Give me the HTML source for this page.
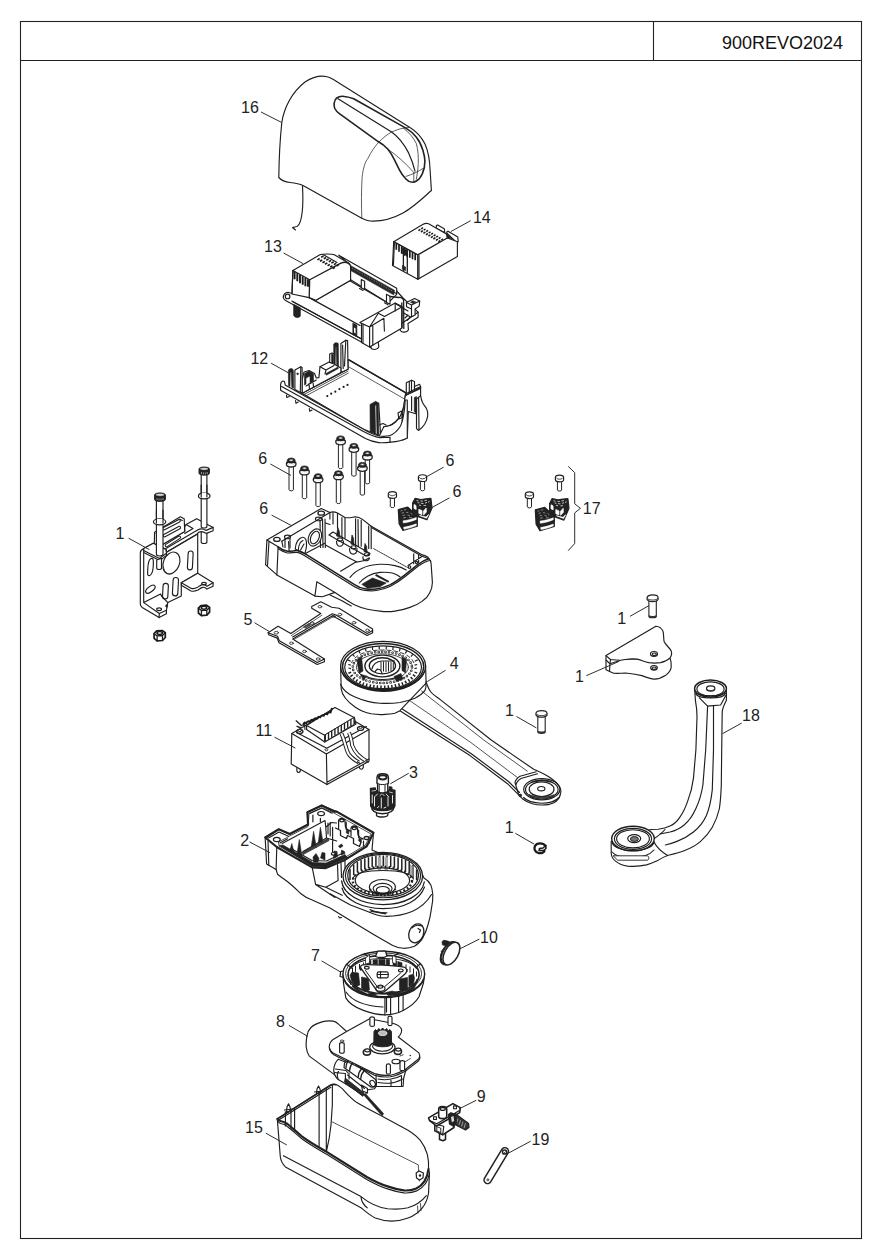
<!DOCTYPE html>
<html><head><meta charset="utf-8">
<style>
html,body{margin:0;padding:0;background:#fff;}
body{width:881px;height:1254px;overflow:hidden;font-family:"Liberation Sans",sans-serif;}
svg{position:absolute;left:0;top:0;display:block}
.t{font-family:"Liberation Sans",sans-serif;font-size:16px;fill:#222}
.p{fill:#fff;stroke:#1e1e1e;stroke-width:1.15;stroke-linejoin:round;stroke-linecap:round}
.n{fill:none;stroke:#1e1e1e;stroke-width:1.15;stroke-linejoin:round;stroke-linecap:round}
.h{fill:none;stroke:#2a2a2a;stroke-width:.75;stroke-linejoin:round;stroke-linecap:round}
.b{fill:none;stroke:#222;stroke-width:1.6;stroke-linejoin:round;stroke-linecap:round}
.k{fill:#222;stroke:#222;stroke-width:.6;stroke-linejoin:round}
.l{fill:none;stroke:#222;stroke-width:.95}
</style></head><body>
<svg width="881" height="1254" viewBox="0 0 881 1254">
<g fill="none" stroke="#222" stroke-width="1.1">
<rect x="20.5" y="21.5" width="841" height="1217"/>
<line x1="20.5" y1="60.5" x2="861.5" y2="60.5"/>
<line x1="653.5" y1="21.5" x2="653.5" y2="60.5"/>
</g>
<text x="843" y="49" text-anchor="end" style="font-family:'Liberation Sans',sans-serif;font-size:18px;fill:#111">900REVO2024</text>
<defs>
<g id="scr">
<path d="M-2.2 7 L-2.2 31.9 C-2.2 33.3 2.2 33.3 2.2 31.9 L2.2 7 Z" fill="#fff" stroke="#222" stroke-width="1"/>
<path d="M-4.5 4.6 C-5.2 6.4 -4.6 8 -3.2 8.5 C-1 9.3 1 9.3 3.2 8.5 C4.6 8 5.2 6.4 4.5 4.6 Z" fill="#fff" stroke="#222" stroke-width="1.3"/>
<path d="M-3.9 2.6 C-3.9 -.6 3.9 -.6 3.9 2.6 L3.9 5 C3 6.8 -3 6.8 -3.9 5 Z" fill="#222" stroke="#222" stroke-width=".8"/>
<path d="M-3.2 5.6 C-1.5 7.2 1.5 7.2 3.2 5.6 C1.5 6.2 -1.5 6.2 -3.2 5.6Z" fill="#fff" stroke="#fff" stroke-width=".9"/>
<ellipse cx="0" cy="2.4" rx="2.2" ry="1" fill="#999"/>
<ellipse cx="0" cy="2.4" rx=".9" ry=".5" fill="#fff"/>
</g>
<g id="sscr">
<path d="M-2.1 6 L-2.1 15.2 C-2.1 16.5 2.1 16.5 2.1 15.2 L2.1 6 Z" fill="#fff" stroke="#222" stroke-width="1"/>
<path d="M-4.1 2.4 C-4.1 -.6 4.1 -.6 4.1 2.4 L4.1 4.8 C4.1 7.6 -4.1 7.6 -4.1 4.8 Z" fill="#fff" stroke="#222" stroke-width="1.2"/>
<path d="M-3.4 2.8 C-2 4.8 2 4.8 3.4 2.8" fill="none" stroke="#222" stroke-width=".9"/>
</g>
<g id="clipset">
<use href="#sscr" x="392.4" y="491.4"/>
<use href="#sscr" x="422.5" y="474.6"/>
<!-- right clip -->
<path d="M412.6 503.1 L415 498.4 L421 499.5 L426 498.8 L430.9 498.4 L432 507.9 L426.9 519.8 L418.1 516.6 L412.6 511.1 Z" fill="#222" stroke="#222" stroke-width="1.2" stroke-linejoin="round"/>
<path d="M414 504.5 L416 505.5 L416.2 509.5 L414 508.5 Z M418.8 509.2 L422 510.6 L422 514.6 L418.8 513.4 Z M423.5 511 L426.2 508 L426.4 512 L423.6 515 Z M419.5 515.5 L426.5 518.2 L428.6 514.5 L426 517 Z M417.5 502.5 l2 .5 M421 503.3 l2.5 .3 M425 503 l2 -.5 M416.5 500.5 l2 .4 M420.5 501 l2.4 .2 M424.5 500.6 l2.4 -.3 M428 502 l1.6 -.4 M419 505 l2 .5 M423.5 505.6 l2.5 -.2" fill="#fff" stroke="#fff" stroke-width=".7"/>
<!-- left clip -->
<path d="M398.3 509.5 L407.8 507.1 L417.3 515.9 L417.3 526.2 L403 530.5 L399.1 523.8 Z" fill="#222" stroke="#222" stroke-width="1.2" stroke-linejoin="round"/>
<path d="M403 520.8 C408 520.2 412.5 519 416.3 517.5 L416.3 519.4 C412.5 521 408 522.4 403.3 523 Z M403.6 527.2 C408 526.6 412.5 525.4 416.3 523.8 L416.3 525.6 C412 527.4 408 528.6 404 529.3 Z" fill="#fff" stroke="#fff" stroke-width=".5"/>
<path d="M400.5 511 l2 -.6 M404 510 l2.2 -.6 M401.5 513.2 l2.5 -.7 M406 512.2 l2.4 .6 M402.5 515.6 l2.6 -.6 M407.5 515 l2.5 .8 M403 518 l3 -.6 M409 517.4 l3 .4 M410.5 513.2 l1.8 1.2" stroke="#aaa" stroke-width=".7" fill="none"/>
</g>
</defs>

<g id="p16">
<path class="n" d="M302.5 186 C303 195 303 204 302.3 211 C301.5 219 300 225 297 226.5 L292.5 227.5 L295.5 230"/>
<path class="p" d="M278.8 177.5 C279 160 280 140 281.8 122.5 C284 108 292 92 305 82 C312 77.5 320 75.5 326 76.5 C329 77 331 78 333 79.2 L409.9 127.4 C416 131 421.6 137.2 425 144 C428.5 152 429.8 161 430.1 170 L431.4 190.5 C424 197 414 207 403 213 C393 218.5 380 221.5 370 221 C366 220.5 364 219.5 361.8 218.3 L303 185.5 C299 183.5 295 183 290 182.5 C285 182 281 180 278.8 177.5 Z"/>
<path class="h" d="M361.8 218.3 C361.4 205 361.2 190 362.2 176.4 C363.2 168 365 162 368.1 158.1 C371 152 374.5 147 378.5 142.4 C383 138 387 134.5 391.6 132 C396 130 400 128.8 403.3 128.1 L409.9 127.4"/>
<path class="b" d="M334.1 103.3 C334.5 100.5 335.5 98.8 336.7 98 C339 96.3 342 96 344.6 96.5 C348 97 351 97.8 353.7 98.7 L405.9 128.1 C410 130.5 413.5 133.5 416.4 137.2 C419.5 141 421.5 145.5 422.9 150.3 C424 154 424.7 157.5 424.9 160.7 C425 165 424 170 422.3 173.8 C421 177 419 179.5 416.4 181 C415 182 413.8 182.4 412.5 182.3 C410 182 407.5 181 405.9 179 C403.5 176.5 401.2 173.5 399.4 169.9 L394.2 159.4 C392.5 155.5 390.3 152 387.7 149 C385 146 382 143.8 378.5 141.8 L339.4 113.7 C337 111.9 335.7 110.3 334.8 108.5 C334.2 107 334 105 334.1 103.3 Z"/>
<path class="n" style="stroke-width:1.2" d="M338 98.7 L391.6 132 C398 136.5 404 144 408.6 152.9 C411.5 159 413.5 165 415 171.2"/>
<path class="h" d="M403.3 128.1 C409 132.5 413.5 137.5 416.4 143.7 C418 150 418.5 156.5 418.3 163.3 C418 169 417.3 174 416.4 179"/>
<path class="h" d="M387.7 149 C397 155.5 406 163.5 413.8 172.5 M406 176.4 C412 174.5 418 171.8 422.9 168.5 M413.8 172.5 L413.8 181.6"/>
</g>

<g id="p14">
<path class="p" d="M436.2 228.3 L436.4 225.6 L437.6 224.9 L444.3 228.8 L444.8 232.7 Z"/>
<path class="p" d="M446.6 233 L447.2 231.5 L448 231.2 L457.8 237 L458.2 241.7 L457.2 243 Z"/>
<path class="p" d="M393.7 241.7 L422.7 224.5 C424.8 223.3 426.6 223 428.6 223.8 L446.4 233.9 L447.6 238 L457.4 241.7 L457.4 256.4 L417.8 279.3 L392.5 265.4 Z"/>
<path class="k" d="M446.6 233.2 L452 238.6 L447.2 238.2 Z"/>
<path class="n" style="stroke-width:1.4" d="M393.7 241.7 L417.8 254.8 L447.2 238 M417.8 254.8 L417.8 279.3"/>
<path class="n" d="M419 255.6 L419 278.6 M394.4 243 L393.4 265"/>
<g stroke="#1a1a1a" stroke-width="1.7" fill="none">
<path d="M396.3 243.2 v6.5 M399 244.7 v7 M401.7 246.2 v7.5 M404.4 247.7 v8 M407.1 249.2 v7.5 M409.8 250.7 v7 M412.5 252.2 v7 M415.2 253.7 v6.5"/>
</g>
<g stroke="#1a1a1a" stroke-width="1.5" fill="none">
<path d="M418.4 230.6 l2 -1.3 M421.2 228.8 l1.8 -1.2 M420.9 232 l2 -1.3 M423.7 230.2 l1.8 -1.2 M423.4 233.4 l2 -1.3 M426.2 231.6 l1.8 -1.2 M425.9 234.8 l2 -1.3 M428.7 233 l1.8 -1.2 M428.4 236.2 l2 -1.3 M431.2 234.4 l1.8 -1.2 M430.9 237.6 l2 -1.3 M433.7 235.8 l1.8 -1.2 M433.4 239 l2 -1.3 M436.2 237.2 l1.8 -1.2 M435.9 240.4 l2 -1.3 M438.7 238.6 l1.8 -1.2 M438.4 241.8 l2 -1.3 M441.2 240 l1.8 -1.2"/>
</g>
<path class="k" d="M402.3 247.5 L407.4 250.3 L407.4 256 L402.3 253.5 Z"/>
<path class="n" style="stroke-width:1.3" d="M403.4 250 L403.4 270.3 M407.3 254 L407.3 272.5"/>
<path class="k" d="M402.4 265.4 L405.5 267 L405.5 270.8 L402.4 269.2 Z"/>
</g>

<g id="p13">
<!-- base plate -->
<path class="p" d="M283.4 298 C283 294.5 285 292.3 288 292.2 L292 293.5 L350 265 L396.7 291 L403 298 L418.1 312.2 L418.1 317.3 L408 323.5 L408.4 330 C407 332.5 402 333 400.3 330.5 L400.2 328.2 L378.2 341.6 L378.8 347 C377.5 350 372 350.5 370.6 347.5 L370.4 347 L285.6 300.4 C284.3 299.8 283.6 299 283.4 298 Z"/>
<circle class="n" cx="287.6" cy="296.4" r="2.3"/>
<path class="n" d="M291.8 301 L371 344.3 L418.1 312.2 M371 344.3 L371 347.5"/>
<!-- peg -->
<path class="k" d="M293.6 304.2 L293.6 315.5 C295 318 299 318.3 300.4 316 L300.4 307.8 Z"/>
<!-- floor + back wall -->
<path class="p" d="M338.8 255.2 L396.7 288.2 L396.7 294.3 L388 303 L350.2 281 L350.2 265.2 Z"/>
<path class="n" d="M350.7 267.3 L396.7 293.8 M350.2 279.5 L388 303 M315.9 300.2 L350.6 280.2"/>
<path d="M351 265.8 L394.5 290.2 L393.8 295 L351 270.8 Z" fill="#2a2a2a" stroke="#222" stroke-width=".5"/>
<path d="M352 268 L393 291.5" stroke="#999" stroke-width=".7" stroke-dasharray="1.2 1.6" fill="none"/>
<path class="p" d="M361.3 279.5 L361.3 287.8 L364.6 289.6 L364.6 281.2 Z"/>
<path class="p" d="M386.5 294.3 L386.5 302.4 L390 304.2 L390 296.2 Z"/>
<path class="n" d="M359.5 288.5 L363 290.5 M384.5 302.8 L388 304.8"/>
<!-- front wall -->
<path class="n" style="stroke-width:1.4" d="M309.2 297.6 L360 325.5"/>
<path class="n" d="M292.9 301.7 L369.6 343.3"/>
<path class="k" d="M352.8 322.9 L356.9 325.1 L356.9 336.7 L352.8 334.5 Z"/>
<rect x="354" y="327.5" width="1.6" height="5" fill="#fff" transform="skewY(28) translate(0,-188.2)"/>
<!-- raised block -->
<path class="p" d="M292.9 270.5 L319.9 254.7 C322 253.8 332 253.8 334.3 254.7 L348.6 262.9 C350 264 350.6 265.5 350.6 267.5 L350.6 280.2 L315.9 300.2 L309.2 297.6 L291.9 294 Z"/>
<path class="n" style="stroke-width:1.3" d="M292.9 270.5 L309.7 279.7 L340.4 263.4 C344 261.8 347.5 262 349.5 264.2 M309.7 279.7 L309.2 297.6"/>
<path class="n" d="M323 254.5 L337 262.5 M292 293.6 L292.9 270.5"/>
<g stroke="#1a1a1a" fill="none">
<path stroke-width="1.9" d="M294.6 271.8 v7.5 M297.3 273.3 v8 M300 274.8 v8.4 M302.7 276.3 v8.4 M305.4 277.8 v8.4 M308 279.2 v7.6"/>
<path stroke-width="1.6" d="M317.4 259.9 l2.3 -1.35 M319.9 261.3 l2.3 -1.35 M322.5 262.8 l2.3 -1.35 M325.0 264.2 l2.3 -1.35 M327.6 265.7 l2.3 -1.35 M330.1 267.1 l2.3 -1.35 M332.7 268.6 l2.3 -1.35 "/>
<path stroke-width="1.6" d="M321.2 257.3 l2.3 -1.35 M323.8 258.8 l2.3 -1.35 M326.3 260.2 l2.3 -1.35 M328.8 261.7 l2.3 -1.35 M331.4 263.1 l2.3 -1.35 M333.9 264.6 l2.3 -1.35 M336.5 266.0 l2.3 -1.35 "/>
</g>
<!-- right block -->
<path class="p" d="M359.9 322.4 L395.2 303 L402 306.5 L402 328 L369.6 346.9 L361.5 342.5 L361.5 323.4 Z"/>
<path class="n" d="M361.5 323.4 L369.6 327 L383.9 318.3 L384.4 331.1 M369.6 327 L369.6 346.9 M372.8 326 L372.8 345 M369.6 327 L378.3 313.2 M378.3 313.2 L384.5 316.5 L401 307.5 M363 324.5 L363 342.8"/>
<path class="n" d="M395.2 303 L395.2 311"/>
<!-- clip and connector -->
<path class="n" style="stroke-width:1.3" d="M390 296.5 L399 297.5 C401.5 297.2 403.2 298.3 403.6 300.5 L403.8 328.5 M401.8 303 L401.8 327.5"/>
<path class="p" d="M406.4 302.5 L414.6 298.4 L419.7 301 L419.2 306.1 L415.1 309 L415.1 315 L411.5 316.8 L411.5 309 L406.6 306.8 Z"/>
<path class="n" d="M406.4 302.5 L411.5 305 L419.7 301 M411.5 305 L411.5 309 M396 304 L408 311 M403.8 313 L410.5 317 M405 318 l3 -3 M407 320.5 l3 -3"/>
<path class="k" d="M412.8 300.8 L415.8 302 L413.2 303.6 L410.5 302.3 Z"/>
</g>

<g id="p12">
<!-- floor + walls -->
<path class="p" d="M302.1 393.2 L348 369.2 L348 359.5 L406.3 393.1 L405.3 395.6 C404.8 402 403 411 400.2 416.1 C397 421 394 424 390 425.5 L383.8 426.8 L379.5 435.5 L363 429 Z"/>
<path class="n" style="stroke-width:1.5" d="M349 359.8 L406.3 393.1"/>
<path class="h" d="M348.5 366.7 L404.8 399.2"/>
<path class="h" style="stroke-width:.8" d="M302.1 393.2 L348 369.2 M303.2 394.9 L348 371.2 M304.5 396.6 L348.3 373.2"/>
<!-- back post -->
<path class="p" d="M340.9 343.5 L345.8 340.2 L347.6 340.5 L348 369.2 L340.9 372.5 Z"/>
<path class="k" d="M333.7 344 C334.5 342.5 337.5 342.5 338.3 343.5 L338.5 366 L336.8 367 L336.3 347 L335.5 347 L335.2 366.5 L333.7 365.6 Z"/>
<path class="n" d="M342.6 345 L343.2 368.5 M345.8 340.2 L344.5 366"/>
<path class="p" d="M329.7 354 L332 352.9 L334.3 354 L334.3 364.6 L329.7 364.6 Z"/>
<path class="k" d="M331.6 354 L333.6 354.5 L333.6 363 L331.6 363 Z"/>
<!-- left wall profile -->
<path class="p" d="M302.1 393.2 L302.1 380 L304 372 L309 370.5 L314.5 373.5 L316.3 378 L318.9 377.6 L320 366.7 L329.1 362.1 L334 364 L340.9 368 L340.9 372.5 L305 391.8 Z"/>
<path class="k" d="M304.5 373.5 L309 371 L313.5 373.8 L313.5 381 L310 383 L310 376 L306 378 L306 384 L304.5 385 Z"/>
<path class="n" d="M320 366.7 L326 370 L334 365.5 M326 370 L325 374 M306 386 L316.3 380 M309 383.5 L309.5 389 M313 381.5 L313.5 387"/>
<path class="k" d="M326 373.5 L338 367 L338.3 368.6 L326.3 375.2 Z"/>
<!-- left posts -->
<path class="p" d="M294.9 370 L300.8 366.8 L302.1 367.5 L302.1 393.2 L294.9 389.5 Z"/>
<circle class="k" cx="297.6" cy="373.8" r=".9"/>
<path class="k" d="M288.3 371 C288.8 368 292.8 367.8 293.4 370.5 L293.6 388.3 L291.8 387.4 L291.2 372.5 L290.2 372.5 L290 386.5 L288.6 385.7 Z"/>
<path class="n" d="M300.8 366.8 L300.3 391.8"/>
<!-- right post -->
<path class="p" d="M406.3 382.8 L411.5 380.2 L414.5 381.5 L414.5 395.6 L406.3 395.6 Z"/>
<path class="n" d="M409.3 381.5 L409.3 394 M411.5 380.2 L411.5 393"/>
<!-- right leg and wing -->
<path class="p" d="M420.6 395.6 C421.2 399 421.8 401 422.6 402.8 C424 405.5 425.8 407 426.7 408.9 C427.8 411 427.9 413.5 427.7 416.1 C427.2 419 426 422 424.7 424.3 C423 427 420.8 429 418.5 430.4 C417.5 430 417 429.3 416.5 428.3 L416.5 395.6 Z"/>
<path class="n" d="M418.6 396 L419 429.5"/>
<path class="p" d="M405.3 395.6 L420.6 387.5 L420.6 395.6 L416.5 399 L416.5 414 L408.3 411.5 L407.3 438 L402.2 440.1 L402.2 416 Z"/>
<path class="k" d="M414.3 397.5 L416.5 396.5 L416.5 414 L414.3 411.5 Z"/>
<path class="n" d="M405.3 394.1 L420.6 386.6 L420.6 387.5 M411.6 396.5 L411.6 410.5 M405.3 395.6 L420.6 388.5"/>
<path class="p" d="M414.5 386.6 L419.5 384.3 L420.6 386.6 L414.5 389.5 Z"/>
<!-- front band -->
<path class="p" d="M280.6 384.5 C280.8 382.5 281.8 381.2 283 381 L284.5 381.5 L285.2 385 L363.1 429 C369 432.5 375 435 379.7 436 C383 436.5 387 436.3 390 435.5 C394 434 398 430 400.5 426 C403 421 404.5 412 405.3 400 L407.3 400 L407.3 438 C403 440.3 396 441.8 391 442.1 C386 442.8 382 443 378.7 442.6 C374 442 369 440.5 365.4 438.6 L280.6 390.2 Z"/>
<path class="n" d="M281.6 386.5 L363 431.2 C370 435 376 437 380 437.6 L390 437.2 L390 442 M383.8 426.8 C390 426 395 423 398.5 418.5"/>
<!-- teeth under band -->
<path class="n" d="M286.5 395 l.3 2.5 l2.5 -1 M295.5 400.5 l.5 2.8 l2.2 -1.2 M309.3 408.5 l.5 2.8 l2.2 -1.2"/>
<!-- front post -->
<path class="k" d="M370 404.5 L375.6 401.3 L378.2 402.8 L378.9 434.8 L377 434.3 L376.3 405 L375 405.5 L375.6 433.5 L370.2 431.5 Z"/>
<path class="n" d="M378.7 403 L380.5 433.5 M379 425 L383 423.5 L386 425"/>
<path class="n" d="M398 413 L401.5 411 L402.3 417.5 L398.8 419 Z"/>
<!-- dots -->
<g fill="#222"><circle cx="327.3" cy="396.1" r="1.1"/><circle cx="331.2" cy="393.7" r="1.1"/><circle cx="335.3" cy="391.7" r="1.1"/><circle cx="339.4" cy="389.1" r="1.1"/><circle cx="343.6" cy="386.9" r="1.1"/><circle cx="347.5" cy="384.9" r="1.1"/></g>
</g>

<g id="screws6">
<use href="#scr" x="340.6" y="435.7"/>
<use href="#scr" x="353.9" y="443.2"/>
<use href="#scr" x="367.4" y="450.9"/>
<use href="#scr" x="362.4" y="462.2"/>
<use href="#scr" x="291.2" y="457.9"/>
<use href="#scr" x="304.5" y="465.8"/>
<use href="#scr" x="318.1" y="473.6"/>
<use href="#scr" x="338.5" y="470.6"/>
</g>

<use href="#clipset"/>

<use href="#clipset" transform="translate(137 .3)"/>
<path class="l" d="M568.2 466.4 L574.7 472.6 L574.7 503.8 L580.4 508.3 L574.7 512.9 L574.7 543.5 L568.2 550.7"/>

<g id="bracket1">
<!-- right bolt lower part (behind tab) -->
<path class="p" d="M201.2 528 L201.2 542 C201.2 544 206.9 544 206.9 542 L206.9 528 Z"/>
<!-- top flange + right tab -->
<path class="p" d="M184.7 531.5 L184.7 527 L186.1 524.5 L196.7 518.7 L213.1 527.4 L213.1 530.7 L206.4 533.4 C203.5 531.6 200.5 531.4 198.7 532.2 L197.2 534.1 L166.3 552.3 L165.9 549.6 L160 546 Z"/>
<path class="n" d="M186.1 524.5 L193 528.6 L184.7 533.5 M213.1 527.4 L206.2 530.4 C203.5 528.8 200 528.6 198 529.8 L166 548.6"/>
<path class="k" d="M186 541 l6 -3.5 l.4 .9 l-6 3.5z"/>
<!-- back plate -->
<path class="p" d="M154.6 532.2 L180.3 516.8 L184.2 518.7 L184.7 531.5 L160 546 L154.3 545 Z"/>
<path class="n" d="M156.2 533.5 L179.8 519.2 L182.3 520.5"/>
<g fill="none" stroke-linecap="round">
<path d="M164 528.6 L179 520.8 M164.5 535.6 L179.3 527.6 M166.5 545.5 L179.3 537.3" stroke="#1e1e1e" stroke-width="3.6"/>
<path d="M164 528.6 L179 520.8 M164.5 535.6 L179.3 527.6 M166.5 545.5 L179.3 537.3" stroke="#fff" stroke-width="1.5"/>
</g>
<!-- main plate -->
<path class="p" d="M143.7 548.6 L153.3 543.3 L165.9 549.6 L166.3 552.5 L197.7 534.1 L197.7 573.2 L181.3 582.8 L181.3 595.9 L167.8 602.6 L166.4 610.3 L166.4 613.7 L159.1 617.6 L142.2 607.4 C140.8 606.5 140.3 605.5 140.3 604.1 L140.3 553 C140.3 551 141.5 549.5 143.7 548.6 Z"/>
<path class="n" d="M143.7 552.5 L143.7 602.6 L160.6 593.9 L161.5 596 L167.8 602.6 M143.7 602.6 L159.3 613.5 L166.4 610.3 M159.3 613.5 L159.1 617.6"/>
<ellipse class="n" cx="159.1" cy="609.2" rx="2.4" ry="1.4"/>
<path class="k" d="M166 604.5 l1.6 .8 l-.6 2.2 l-1.4 -.8z"/>
<!-- right lower tab -->
<path class="p" d="M197.7 573.2 L213.1 582.8 L213.1 586.2 L206.9 589.1 C205.5 587.5 203.8 587 202.5 587.4 C200.5 588 199 589.3 197.7 590.1 C195.5 591.2 192.8 591.5 191 591 L181.3 585.3 L181.3 582.8 Z"/>
<path class="n" d="M181.3 582.8 L191.3 588.4 C193 588.8 195.5 588.4 197.5 587.3 C199 586.3 200.5 585 202.3 584.6 C204 584.3 205.8 585 207 586.3 L213.1 582.8"/>
<ellipse class="n" cx="204" cy="583.6" rx="2.3" ry="1.3"/>
<!-- holes in main plate -->
<ellipse class="n" cx="171.4" cy="563" rx="8" ry="11.4" transform="rotate(22 171.4 563)"/>
<path class="h" d="M163.5 567 C164 572 167 575.3 170.5 574"/>
<g class="n">
<path d="M147.6 573 C147.3 575.5 149.3 576.5 151 574.5 C152.3 572.8 153.2 569 153.3 565 L153.3 560.5 C153.3 558 151 557.5 149.6 559.8 C148.4 561.8 147.7 566 147.6 573 Z"/>
<rect x="187.8" y="551" width="5" height="18.8" rx="2.5" transform="rotate(3 190 560)"/>
<rect x="162.8" y="583.3" width="5.3" height="15.6" rx="2.6" transform="rotate(3 165 591)"/>
<rect x="172.8" y="577.5" width="5.4" height="18.4" rx="2.7" transform="rotate(3 175 586)"/>
<ellipse cx="150.4" cy="589.2" rx="5.6" ry="2.6" transform="rotate(-38 150.4 589.2)"/>
</g>
<!-- left tab -->
<path class="p" d="M143.7 548.6 L153.3 543.3 L165.9 549.6 L166.8 555.3 L159.6 560.6 L143.7 552.5 Z"/>
<path class="n" d="M143.7 550.5 L159.4 558.4 L166.2 553.5 M159.4 558.4 L159.6 560.6"/>
<!-- left bolt below tab -->
<path class="p" d="M156.7 560 L156.7 568 C156.7 570 161.5 570 161.5 568 L161.5 558.3 Z"/>
<!-- left bolt -->
<path class="p" d="M156.4 499 L156.4 554.3 C156.4 556.5 163 556.5 163 554.3 L163 499 Z"/>
<ellipse class="p" cx="159.6" cy="521.8" rx="6.2" ry="3" style="stroke-width:1.2"/>
<path class="p" d="M156.4 521.5 C156.4 523.5 163 523.5 163 521.5 L163 519 L156.4 519 Z" style="stroke:none"/>
<path class="n" d="M156.4 510 L156.4 523 M163 510 L163 523"/>
<path d="M154.6 495 C154.6 492.3 165.4 492.3 165.4 495 L165.4 499.5 C165.4 502 154.6 502 154.6 499.5 Z" fill="#222" stroke="#222" stroke-width="1"/>
<path d="M156 494.8 C158 493.8 162 493.8 164 494.8 C162 496 158 496 156 494.8Z M157 498 v2 M159 498.4 v2 M161 498.4 v2 M163 498 v2" fill="#ddd" stroke="#ddd" stroke-width=".6"/>
<!-- right bolt -->
<path class="p" d="M201.2 473 L201.2 526.5 C201.2 528.5 206.9 528.5 206.9 526.5 L206.9 473 Z"/>
<ellipse class="p" cx="204.2" cy="496" rx="5.8" ry="2.8" style="stroke-width:1.2"/>
<path class="p" d="M201.2 495.8 C201.2 497.6 206.9 497.6 206.9 495.8 L206.9 493 L201.2 493 Z" style="stroke:none"/>
<path class="n" d="M201.2 485 L201.2 497 M206.9 485 L206.9 497"/>
<path d="M199 469 C199 466.4 209.4 466.4 209.4 469 L209.4 473.3 C209.4 475.8 199 475.8 199 473.3 Z" fill="#222" stroke="#222" stroke-width="1"/>
<path d="M200.4 468.8 C202.4 467.8 206 467.8 208 468.8 C206 470 202.4 470 200.4 468.8Z M201.5 472 v2 M203.4 472.4 v2 M205.3 472.4 v2 M207.2 472 v2" fill="#ddd" stroke="#ddd" stroke-width=".6"/>
<!-- nuts -->
<g id="nut1">
<path d="M198.4 608.2 L201 605.6 L206.5 605.2 L209.6 607.4 L209.6 612.2 L206.8 615.2 L201.4 615.6 L198.4 613 Z" fill="#fff" stroke="#1a1a1a" stroke-width="1.7" stroke-linejoin="round"/>
<path class="n" style="stroke-width:1.3" d="M198.4 608.2 L201.4 610.6 L206.8 610.2 L209.6 607.4 M201.4 610.6 L201.4 615.6 M206.8 610.2 L206.8 615.2"/>
<ellipse cx="204" cy="607.8" rx="2.7" ry="1.5" fill="#fff" stroke="#1a1a1a" stroke-width="1.5"/>
</g>
<use href="#nut1" transform="translate(-44.3 25.3)"/>
</g>

<g id="housing6">
<!-- outer body -->
<path class="p" d="M266.9 540 L321.2 508.5 L329.9 512.5 C332 511.5 335 511.8 337.5 513.1 L345 517.5 C348 518.3 352 517.3 355 516.9 C358 516.8 360.5 518 362.5 519.4 L371.2 526.2 L422.4 554.9 C426 556 428 557 428.6 558.1 C430 559.5 431 561.5 431.1 563.7 L432.4 582.4 C432.3 586 431.5 589.5 429.9 592.4 C428.2 596 425.5 599 422.4 601.1 C418.5 604 414 606 409.9 607.4 C405 609.3 400 610.5 394.9 611.1 C390 611.8 385 611.8 379.9 611.1 C375.5 610.8 371.5 610.3 367.5 609.3 C363 608.2 359 606.8 355 604.9 C350.5 602.6 346.5 600 342.5 597.4 L334.9 592.4 L322.4 596.8 L314.9 596.1 L276.9 574.9 L265.6 564.9 Z"/>
<!-- lower step -->
<path class="n" d="M314.9 596.1 L316.8 581.8 L334.9 592.4 M330 594.9 L342.5 601.1 C345.5 603 348.5 604.8 351.2 606.1"/>
<!-- left face edge -->
<path class="n" d="M278.1 546.8 L276.9 574.9"/>
<!-- top-left flange -->
<path class="n" d="M266.9 540 L278.1 546.8 M281.8 541.2 L329.9 512.5 M269 541 L267.5 565.5"/>
<!-- interior back wall scallops/ribs -->
<path class="n" d="M329.9 512.5 L329.9 519 M341.9 517.5 L341.9 537.5 M345 518 L345 538 M355.6 518.7 L355.6 546.2 M358 519.5 L358.3 546.5 M361.2 520 L361.2 546.2 M368.7 526 L368.7 548.5 M371.2 526.9 L371.2 548.7 M337.5 513.5 L337.5 528 M333 512.5 L333 524"/>
<!-- left inner wall -->
<path class="n" d="M281.8 541.2 L283 547 M320 520 L320.5 547.5 M322.5 519 L323 547.5 M325 519 L325.3 547.5 M304.9 553.7 L325.3 543 M288.5 541.5 L289.2 551.8"/>
<path class="n" d="M325.5 523 L330 524.5 M325.5 545 L350 558.5"/>
<!-- ports -->
<ellipse class="p" cx="314.9" cy="537.5" rx="6.2" ry="9" transform="rotate(25 314.9 537.5)"/>
<ellipse class="n" cx="314.9" cy="537.5" rx="4" ry="6.6" transform="rotate(25 314.9 537.5)"/>
<path class="p" d="M295.2 549 C295.5 543 298.5 538 302.5 537.3 C305.5 537 307 540.5 306.5 546 C306.2 549 305.5 551.5 304.9 553.7 C301.5 552.5 298.5 551.5 295.2 549 Z"/>
<path class="n" d="M298.3 550.3 C298.5 545.5 300.3 541.5 303 540.5 M300.5 550 L304 544"/>
<!-- flange holes -->
<ellipse class="n" cx="276.9" cy="539.4" rx="3.2" ry="2" style="stroke-width:1.3"/>
<ellipse class="n" cx="287.5" cy="536.9" rx="3" ry="1.8"/>
<path class="n" d="M285 538.5 L285 547.5 M290 538.5 L290 548"/>
<ellipse class="n" cx="321.2" cy="513.2" rx="3.3" ry="2" style="stroke-width:1.3"/>
<ellipse class="n" cx="318.7" cy="518.9" rx="3.3" ry="1.8"/>
<!-- floor lines -->
<path class="n" d="M340.6 571.2 L355 562.4 L361.2 561.2 C364 560.8 367 559.5 369 558 M350 558.5 L357 562"/>
<path class="h" d="M373.7 548.7 L407.4 567.4" style="stroke-dasharray:1 1;stroke-width:1"/>
<path class="n" d="M413.7 553.7 L413.7 563.7 M418.6 555 L418.6 562.4 M408 565.5 L422 556.5"/>
<circle class="n" cx="409.5" cy="567" r="1.3"/><circle class="n" cx="416.5" cy="562.5" r="1.1"/>
<!-- terminal components -->
<g class="n">
<path d="M333 532 L346 539.5 L370 553.5 L366 556 L329 535 Z"/>
<path d="M336.5 541 C336.5 548 343.5 548 343.5 541 M349.5 548.5 C349.5 556 357 556 357 548.5 M363 556.5 C362 561 369 562.5 369.5 558"/>
<ellipse cx="340" cy="539.5" rx="2.6" ry="1.6"/><ellipse cx="353.5" cy="547.3" rx="2.6" ry="1.6"/><ellipse cx="367" cy="554.3" rx="2.6" ry="1.6"/>
</g>
<g fill="#222" stroke="#222" stroke-width=".8"><path d="M336.6 536 L337.8 527.5 L339.2 531 L339.8 537 Z M351 544 L352 535 L353.6 538.5 L354 545 Z M364 551.5 L365 543.5 L366.6 546.5 L367 552.5 Z"/></g>
<!-- circular opening -->
<path class="n" d="M350 577.4 C353 573.5 357 570.5 361.2 568.7 C367 565.8 373.5 564.5 379.9 564.3 C385 564.2 390 564.6 394.9 565.6 C399 566.5 403 568 406.2 569.9"/>
<path class="n" d="M359.3 583 C361.5 580.3 364.3 578 367.5 576.2 C371.5 574 375.6 572.8 379.9 572.4 C384 572.1 388.5 572.2 392.4 573 C395 573.8 397.8 575 399.9 576.8"/>
<path class="k" d="M361.8 584.3 L372.5 578 L386.2 583 L379.9 586.8 L367.5 588.3 Z"/>
<path d="M375.6 574.9 L388.7 581.8" stroke="#222" stroke-width="2" fill="none"/>
<!-- inner rim -->
<path class="n" style="stroke-width:1.5" d="M278.1 546.8 C281 549 284.5 550.8 287.5 551.2 C291 551.5 294.5 550.3 297.5 550.6 C300 551 302.5 552.3 304.9 553.7 L355 584.9 C358 587 361.5 588.3 365 588.7 C369 589.4 373.5 589.4 377.4 588.7 C382 588 386 586.7 389.9 584.9 C395 582.3 400.3 578.5 404.9 574.9 L417.4 564.9 C421 562 425 559.8 428.6 558.7"/>
<path class="n" d="M278.5 548.8 C281.5 551 284.5 552.6 287.5 553 C291 553.2 294.5 552 297.3 552.4 C300 552.8 302 554 304.3 555.4 L354.5 586.7 C358 588.8 361.5 590 365 590.4 C369 591 373.5 591 377.6 590.3 C382 589.6 386.5 588.2 390.5 586.3 C396 583.5 401 580 405.5 576.3 L418 566.3 C422 563.4 426 561 430.5 560.5"/>
<path class="n" d="M371.2 526.2 L371.8 527.8 L421.5 556 L428.6 558.7"/>
</g>

<g id="plate5">
<path class="p" d="M268.1 632.7 L278.1 626.3 L290.8 633.6 L320.8 613.6 L311.7 608.2 L311.7 606.4 L320.8 601.8 L331.7 607.3 L339 608.2 L372.6 629 L372.6 632.7 L367.1 635.4 L335.3 617.2 L332.6 615.8 L292.7 639 L324.4 659 L324.4 661.7 L317.2 664.5 L279 642.7 L277.2 638.1 L268.7 634.8 Z"/>
<path class="n" d="M268.1 632.7 L277.5 636.2 L279.3 640.8 L317.3 662.6 L324.4 659 M292.7 637 L332.4 613.8 L336 615 L367.2 633.5 L372.6 630.6"/>
<path class="h" d="M294.5 639.2 L333 616.8 M291.5 635.5 L322 615.2"/>
<g class="n" style="stroke-width:.8">
<ellipse cx="276.3" cy="632.7" rx="2.2" ry="1.3"/><ellipse cx="291.4" cy="643.2" rx="1.9" ry="1.2"/><ellipse cx="304.5" cy="651.4" rx="1.9" ry="1.2"/><ellipse cx="318.1" cy="659" rx="1.9" ry="1.2"/>
<ellipse cx="319.9" cy="606.7" rx="1.9" ry="1.2"/><ellipse cx="339.9" cy="614.5" rx="1.9" ry="1.2"/><ellipse cx="354" cy="622.7" rx="1.9" ry="1.2"/><ellipse cx="367.5" cy="630.3" rx="1.9" ry="1.2"/>
<ellipse cx="312.1" cy="623.2" rx="1.9" ry="1.2"/><ellipse cx="333.5" cy="616.3" rx="1.7" ry="1"/>
</g>
<path d="M303.6 626.5 L309 623.5 L310.8 625 L305.4 628.2 Z" fill="#555" stroke="#222" stroke-width=".6"/>
</g>

<g id="arm4">
<!-- arm body -->
<path class="p" d="M424 676 C425.5 680 427 686 429.9 690.7 C432 694 436 696.5 440 699.4 L491.2 740 L533.7 769.3 C540 772 545.5 774.5 549.9 777.5 C554.5 780.5 558 784 559.9 787.4 C561 789.5 561 792 560.5 793.7 C560 797 558.5 799.5 556.2 801.2 C553 803.5 549 804.6 544.9 804.9 C540.5 805.2 536 804.8 532.4 803.7 C528.5 802.5 525 800.8 522.4 798.7 L518.7 794.9 L507.5 783.7 L470 755.6 L399.9 710.7 L395 700 Z"/>
<path class="n" d="M401.5 708.5 L471 753.5 L508.5 781.5 L519.5 792.5"/>
<path class="h" d="M421.5 691 L483.7 740 L527.4 771.2 M410.1 700.9 L470 741.9 L517.4 777.5" style="stroke-width:.8"/>
<!-- end cap -->
<path class="n" d="M515 782.5 C515.5 780 517.5 777.8 520 776.2 L536.2 771.8 M516 785 C516.5 782.5 518.5 780 521 778.5 L537.5 773.8 M515 782.5 L518.7 794.9"/>
<circle class="k" cx="520.3" cy="795.5" r="1.4"/>
<ellipse class="n" cx="541.8" cy="789.3" rx="18.1" ry="10.6" style="stroke-width:1.2"/>
<ellipse class="n" cx="541.8" cy="789.6" rx="16.3" ry="9.4"/>
<ellipse class="n" cx="541.6" cy="789.2" rx="12.4" ry="7.3" style="stroke-width:1.2"/>
<path d="M529 794.5 C534 797 549 797.5 554.3 794.5 C551 799.5 533 799.5 529 794.5 Z" fill="#444" stroke="#222" stroke-width=".6"/>
<path d="M533.5 782 C538 780 546 780 550 781.8" stroke="#222" stroke-width="1.6" fill="none"/>
<ellipse class="n" cx="541.3" cy="788.7" rx="3.6" ry="2.2"/>
<path class="n" d="M523.5 797.5 C527 801 534 803 541.5 803.2 C549 803.2 555.5 801.2 559 797.5"/>
<!-- ring head -->
<path class="p" d="M340.6 666 L341.2 689 C342 695 348 702 355 707 C360 710.5 366 712.8 371.2 713.8 C376 714.6 380.5 714.8 384.9 714.4 C388.5 714.2 392 713.8 394.9 713.2 L399.9 710.7 L426.1 683.2 L425.6 666 Z"/>
<path class="n" d="M340.6 684.4 C343 690 349 694.5 355 697 C363 700.5 371.5 702.8 379.9 703.2 C387 703.6 393.5 703.4 399.9 702.5 C405 701.5 410.5 700 414.9 698.2 C419 696.3 422.5 693.8 424.9 690.7 C426 688 426.3 685 426.1 681.9"/>
<ellipse class="p" cx="383.1" cy="666" rx="42.5" ry="24.7" style="stroke-width:1.3"/>
<ellipse class="n" cx="383.1" cy="666.6" rx="40.6" ry="23.2" style="stroke-width:1.5"/>
<ellipse class="n" cx="383.1" cy="667.3" rx="38.4" ry="21.4"/>
<path class="n" d="M342 672 C346 682 362 690.8 383.1 691.4 C404 691.4 420 682.5 424.3 672" style="stroke-width:1.2"/>
<!-- teeth ring -->
<path d="M349.5 672 C353 681.5 367 687 382.6 687 C398 687 412.5 681.5 416 672" fill="none" stroke="#222" stroke-width="3" stroke-dasharray="1.5 2.1"/>
<path d="M348.6 662 C352 652.5 366 647.8 382.6 647.8 C399 647.8 413.5 652.5 416.8 662" fill="none" stroke="#222" stroke-width="3.2" stroke-dasharray="1.2 5.6" stroke-dashoffset="-1"/>
<path d="M351.5 663 C355 654.5 367 650 382.6 650 C398 650 410.5 654.5 414 663" fill="none" stroke="#222" stroke-width=".9" stroke-dasharray="4.6 2.2" stroke-dashoffset="1.2"/>
<path d="M348.5 668 L351 668.6 M348.2 664.5 L350.8 665.2 M417 668 L414.5 668.6 M417.2 664.5 L414.6 665.2" stroke="#222" stroke-width="1.2"/>
<ellipse cx="382.4" cy="667.4" rx="29.6" ry="15.6" fill="none" stroke="#2a2a2a" stroke-width="2.6" stroke-dasharray="0 3.5" stroke-linecap="round"/>
<ellipse cx="382.4" cy="667.4" rx="29.6" ry="15.6" fill="none" stroke="#fff" stroke-width="1" stroke-dasharray="0 3.5" stroke-linecap="round"/>
<ellipse class="n" cx="382.4" cy="667.2" rx="26" ry="13.4" style="stroke-width:.8"/>
<!-- inner blocks -->
<g class="k"><path d="M357 660 L361.5 656.5 L363 671 L359 673.5 Z M402 656.8 L406.5 659.5 L405.5 673 L402 670.5 Z M394 676.5 L401 673.5 L403 679 L396.5 681.5 Z M360 674 L366 676 L364 680.5 Z"/></g>
<!-- hub -->
<ellipse class="p" cx="382.4" cy="666" rx="17.5" ry="10.9" style="stroke-width:1.4"/>
<ellipse class="p" cx="382.4" cy="665.8" rx="13.1" ry="8.1" style="stroke-width:1.4"/>
<path class="n" d="M372 669 C373 664 377 661.5 382 661 L394.5 661" style="stroke-width:1.2"/>
<path d="M381 662 v8.5 M383.5 661.5 v10 M386 661.5 v10.5 M388.5 661.5 v10 M391 662 v9 M393.3 662.5 v7" stroke="#222" stroke-width="1" fill="none"/>
<path class="n" d="M375 671.5 l2.5 -2.5 l3 1 l1.5 3"/>
<path class="n" d="M366 676 C372 680.5 392 680.8 399 676"/>
</g>

<defs>
<g id="pin1">
<path d="M-3.7 5 L-3.7 21.5 C-3.7 23.3 3.7 23.3 3.7 21.5 L3.7 5 Z" fill="#fff" stroke="#222" stroke-width="1.1"/>
<path d="M-3.7 20 C-2 21.3 2 21.3 3.7 20 L3.7 21.8 C2 23.2 -2 23.2 -3.7 21.8Z" fill="#333"/>
<path d="M-5.5 2.8 C-5.5 -.9 5.5 -.9 5.5 2.8 L5.5 4.6 C4 7.4 -4 7.4 -5.5 4.6 Z" fill="#fff" stroke="#222" stroke-width="1.2"/>
<path d="M-5.5 3.2 C-4 5.8 4 5.8 5.5 3.2" fill="none" stroke="#222" stroke-width=".9"/>
</g>
</defs>
<g id="bolts1">
<use href="#pin1" x="652.6" y="594.9"/>
<use href="#pin1" x="541.5" y="710.5"/>
<!-- fork bracket -->
<path class="p" d="M606 660 L606 669.7 L613.5 673.2 C618 673.6 623 673 627.6 673.2 C633 673.6 638 674.5 641.8 675.6 C646 677 649.5 678.8 653.5 679.1 C658 679.3 662 677.8 665.3 675.6 C668.5 673.3 670.8 670.5 671.2 667.3 C671.5 664 670.8 660 670 657.9 Z"/>
<ellipse class="n" cx="654" cy="667.8" rx="3.3" ry="2.3"/><ellipse class="n" cx="654.3" cy="668.2" rx="1.9" ry="1.2"/>
<path class="p" d="M606 655.6 L655.9 626.2 C658.5 626.3 661.5 628.3 662.9 630.9 C664 634 663.3 638 664.1 641.5 C665.5 645 669.5 647.5 671.2 650.9 C672 653.5 671.5 656 670 657.9 C667.5 660.5 664 662 660.6 662.6 C656.5 663.2 652.5 663.2 648.8 662.6 C644.5 661.8 641 660 637 659.1 C632 658.3 625.5 659.2 620.6 660.3 L610 663.8 L606 660 Z"/>
<path class="n" d="M606 655.6 L610.5 659.5 L610 663.8 M610.5 659.5 L619.5 660.3 M610 663.8 L609.5 671.3"/>
<ellipse class="n" cx="654" cy="653.9" rx="3.5" ry="2.4"/><ellipse class="n" cx="654.3" cy="654.3" rx="2" ry="1.3"/>
</g>

<g id="arm18">
<path class="p" d="M694.6 688 L695.4 700.3 C696.5 706 697 711 697 716.7 L695.9 749.7 L693.5 777.9 C692.5 786 690.5 794 687.6 801.4 C685.5 807.5 683 813 679.4 817.9 C677 821.5 674 824.3 670 826.1 C666.5 827.8 662 828.8 658.2 829.2 L651 829.5 L611.2 841.4 L611.2 853.2 C611.5 856.5 613.3 859.5 615.9 861.4 C619 864 623 865.6 627.6 866.1 C634 866.6 641 866.2 646.5 864.9 C651 863.5 654.5 861.8 658.2 860.2 C661 858.5 664 856.6 667.6 855.5 C673 854.2 678.5 853 684.1 850.8 C690 848.5 696 845.5 700.6 841.4 C705 837.5 709.3 832.5 712.3 827.3 C715.5 821.5 718 815 719.4 808.5 C720.5 801 721 793 721.3 785 L721.7 749.7 L722.2 712 C722.5 708 724.5 704 726.4 700.3 L726.4 688 Z"/>
<!-- inner lines -->
<path class="n" d="M707.6 706.1 L705.7 749.7 L702.9 785 C701.5 794 699 802 695.9 808.5 C693 815 689 821 684.1 825 C680 828.5 675 830.8 670 832 L660 834"/>
<path class="n" d="M713.5 706.1 L713.5 749.7 L712.3 789.6 C711.3 799 709.5 808 706.4 815.5 C703.5 822 699 827.5 693.5 832 C688.5 836 683 839 677 841.4 C673 843 669 844.3 665.3 845"/>
<!-- top boss -->
<path class="n" d="M699.4 697.9 L707.6 706.1 L720.6 705 L725.8 695.5"/>
<ellipse class="p" cx="710.5" cy="688.6" rx="15.9" ry="8.6" style="stroke-width:1.5"/>
<ellipse class="n" cx="710.5" cy="688.9" rx="13.6" ry="7.1"/>
<path class="n" d="M695.6 693.5 C698 699.5 723 699.5 725.5 693.5 M695.2 691 C698 697.5 723 697.5 725.8 691" style="stroke-width:1.2"/>
<ellipse class="n" cx="710.7" cy="688.5" rx="4.2" ry="2.6"/>
<path class="n" d="M707 689.5 C708.5 691 713 691 714.5 689.5" style="stroke-width:.8"/>
<!-- bottom boss -->
<path class="n" d="M654.2 838.6 C658 836 662 833 665 829.5 M654 842 C657 848 661 851.5 667.6 855.5 M612 852 C618 859 645 860.5 654 850"/>
<path class="p" d="M613.5 855.8 L647 855.8 C649.5 855.8 649.5 860.2 647 860.2 L618 860.2 Z" style="stroke-width:.9"/>
<ellipse class="p" cx="633" cy="838.6" rx="21.3" ry="12.3" style="stroke-width:1.4"/>
<ellipse class="n" cx="633" cy="838.8" rx="18.6" ry="10.5"/>
<ellipse class="n" cx="633" cy="838.8" rx="16.4" ry="9.1"/>
<path class="n" d="M611.8 842 C615 853.5 651 853.5 654.2 842" />
<ellipse class="n" cx="634.2" cy="838.6" rx="6.5" ry="4" style="stroke-width:1.2"/>
<ellipse cx="634.4" cy="839" rx="4" ry="2.4" fill="#777" stroke="#222" stroke-width="1"/>
</g>

<g id="t11">
<!-- feet -->
<path class="p" d="M296.9 766 L296.9 771 C297.5 773 299.7 773 300.3 771 L300.3 767"/>
<path class="p" d="M359.3 763 L359.3 767.5 C360 769.8 362.6 769.8 363.3 767.5 L363.3 761"/>
<!-- base box -->
<path class="p" d="M291.8 733.5 L334 709 L369 729.5 L369 761.3 L327 784.6 L291.2 764.1 Z"/>
<path class="n" d="M291.8 733.5 L326.4 753.9 L369 729.5 M326.4 753.9 L327 784.6 M296.5 732.5 L326.8 748.2 L366.5 726.5 M327 782.3 L369 759"/>
<!-- raised block -->
<path class="p" d="M306.6 725.5 L334.9 707.4 L354.2 717.6 L356 724 L324.7 742 L306.6 729.5 Z"/>
<path class="n" d="M306.6 725.5 L324.7 735.2 L354.2 717.6 M324.7 735.2 L324.7 742"/>
<!-- front terminals -->
<path d="M324.7 735 L354.6 717.2 L354.6 724 L324.7 741.8 Z" fill="#fff" stroke="#1e1e1e" stroke-width=".9"/>
<path d="M325.3 734.5 v6.6 M328.5 732.6 v6.6 M331.7 730.7 v6.6 M334.9 728.8 v6.6 M338.1 726.9 v6.6 M341.3 725.0 v6.6 M344.5 723.1 v6.6 M347.7 721.2 v6.6 M350.9 719.3 v6.6 M354.1 717.3 v6.6 " stroke="#1e1e1e" stroke-width="1.35" fill="none"/>
<!-- back terminals coil -->
<path d="M303.2 725 C304 721.5 306.5 722.5 305.8 724.2 C307.5 720 310 721 309.3 722.8 C311 718.5 313.5 719.5 312.8 721.2 C314.5 717 317 718 316.3 719.6 C318 715.5 320.5 716.5 319.8 718 C321.5 714 324 715 323.3 716.5 C325 712.5 327.5 713.5 326.8 715 C328.5 711 331 711.8 330.3 713.3 L331.8 708.6" fill="none" stroke="#1a1a1a" stroke-width="1.9" stroke-linecap="round"/>
<path d="M295.8 720.4 L302 726 M296.5 726.2 L301 728" stroke="#222" stroke-width="1.4" fill="none"/>
<path class="n" d="M304.5 722 L305 729.5"/>
<!-- corner screws -->
<ellipse cx="299.8" cy="731.6" rx="3" ry="2" fill="#fff" stroke="#222" stroke-width="1.5"/>
<ellipse cx="299.8" cy="730.6" rx="1.6" ry="1" fill="#fff" stroke="#222" stroke-width="1"/>
<ellipse cx="360.5" cy="728.4" rx="3" ry="2" fill="#fff" stroke="#222" stroke-width="1.3"/>
<ellipse cx="360.5" cy="727.6" rx="1.5" ry=".9" fill="#fff" stroke="#222" stroke-width=".9"/>
<ellipse cx="326.4" cy="749.8" rx="1.5" ry="1" fill="#fff" stroke="#222" stroke-width=".8"/>
<!-- wires -->
<path d="M341.5 733.6 C343.5 738 344.5 741.5 345.5 745.4 C346.5 749 347.3 752 349 754.5 C351.5 758 355.5 760.5 358.8 762.4" stroke="#222" stroke-width="4" fill="none"/>
<path d="M341.5 733.6 C343.5 738 344.5 741.5 345.5 745.4 C346.5 749 347.3 752 349 754.5 C351.5 758 355.5 760.5 358.8 762.4" stroke="#fff" stroke-width="2" fill="none"/>
<path d="M349 732.6 C351 737 351.6 741 352.2 745.4 C353.5 749 355.5 752 357.8 754.5 C360.5 757.3 364 759.8 367 761.3" stroke="#222" stroke-width="4" fill="none"/>
<path d="M349 732.6 C351 737 351.6 741 352.2 745.4 C353.5 749 355.5 752 357.8 754.5 C360.5 757.3 364 759.8 367 761.3" stroke="#fff" stroke-width="2" fill="none"/>
<path d="M357 761.5 l3 2 M365.5 760 l3 2.5" stroke="#222" stroke-width="1.3"/>
</g>

<g id="gear3">
<!-- bottom -->
<path class="p" d="M376.5 812 L376.5 815.3 C378 817.6 386.5 817.6 387.8 815.3 L387.8 812 Z" style="stroke-width:1.3"/>
<path class="p" d="M371.3 806 C371.5 811 374.5 813.6 382.5 813.8 C391 813.6 394 811 394.2 806 Z" style="stroke-width:1.4"/>
<!-- gear body -->
<path d="M370.4 788.4 L375.3 787.8 L375.8 790.5 L389 790.3 L389.5 786.8 L391.8 787.2 L392 789.5 L395 790.3 L395 806 C393.5 809.8 388 810.6 382.5 810.6 C377 810.6 372 809.8 370.6 806 Z" fill="#222" stroke="#222" stroke-width="1.2" stroke-linejoin="round"/>
<g stroke="#fff" stroke-width=".9" fill="none" stroke-linecap="round">
<path d="M372.2 795 V803 M374.5 797 V806 M381.3 798 V808 M388 797 V806 M392.5 795.5 V803"/>
<path d="M375 796.5 L377.5 794 M380 795.5 L382 793.5 L384 795.5 M386 794 L388.5 796.5 M377.5 807.5 l1.4 -1 M384 808 l1.8 -.8"/>
<path d="M372 791 l3.5 -.5 M389.5 792 l3 .8" stroke-width=".7"/>
</g>
<!-- shaft -->
<path class="p" d="M377 777.2 C377 772.5 388.4 772.5 388.4 777.2 L388.4 783.2 L387.8 784 L387.8 791.5 C385 793.5 380 793.5 377.6 791.5 L377.6 784 L377 783.2 Z" style="stroke-width:1.4"/>
<ellipse cx="382.7" cy="777.3" rx="4" ry="2.1" fill="#fff" stroke="#222" stroke-width="2"/>
<path class="n" d="M377 783 C379 785.2 386.5 785.2 388.4 783 M385 785 L385 792.3 M379.2 784.5 L379.2 792" style="stroke-width:1"/>
</g>

<g id="base2">
<!-- main body silhouette -->
<path class="p" d="M265.2 838.5 L266.6 864 L276.1 869.5 L277.5 874.2 C281 877 284.5 879.5 287.7 881.7 C292.5 885.5 297 890 301.3 894 C305 897 308.5 899 312.2 900 L330 908.1 L350.4 920.4 L374.9 935.3 L392.7 945.6 C396 947.2 400 948.2 403.5 948.3 C407.5 948.3 411.5 947.6 414.4 946.2 C418 944.3 420.5 941.5 422.6 938.1 C425 934 426.8 929.5 428.1 924.5 C429.8 919 430.8 913.5 431.5 908.1 C432.5 903.5 433 899 432.8 894.5 C432.5 891 431.8 887.5 430.8 884.9 C429.3 882 427 879.8 424 878.1 L420 870 L372 850 L373.5 832.7 L336.7 811.6 L321.7 805.4 L307.4 812.3 L308.1 824.5 L289.7 834.1 L278.8 829.3 Z"/>
<!-- left face -->
<path class="n" d="M276.8 847 L276.1 869.5 M268 841 L268.8 865.2"/>
<!-- front box face -->
<path class="n" d="M312.2 867.4 L315.6 884.4 L325.8 887.2 L338.1 880.4 L337.5 864.5 M325.8 887.2 L342.2 895.3 M315.6 884.4 L335 897.5 M341 863 L341.5 877.5 M344.9 859.9 L345.2 872"/>
<!-- interior dark -->
<path d="M289.7 836 L308.1 826.5 L309 813.5 L321.7 807.8 L334 813 L371 834 L365.5 845 L344 858 L326 866 L313 865.5 L279 846 L278.5 842 Z" fill="#fff" stroke="#222" stroke-width=".8"/>
<path class="n" d="M282.2 843.6 L325 820.5 L325.8 827.2 L331.3 822.5 L336.5 823 M325.8 827.2 L326.5 838 L336.7 841 M332.6 827.2 L332.6 853.5 M291 848.5 L312 860.5 L326.5 861 L343 853 M326.5 838 L303 851.5"/>
<path class="k" d="M290 850 L291.8 843.6 L294 852 Z M297 854 L299.3 839.5 L302 856.5 Z M311.3 846.5 L313.6 831.3 L316.3 847.5 Z M318.2 843 L320.4 827.2 L323.2 843.5 Z"/>
<path d="M301.8 852.6 L328 838.5 L329 840.6 L303 854.6 Z" fill="#444" stroke="#222" stroke-width=".7"/>
<path class="k" d="M279 845.5 L283 845 L313 862.5 L326 863 L345 854.5 L347.5 857.5 L326 867 L312.5 866.5 Z"/>
<path class="k" d="M313 857 L316 853.5 L319 858.5 L318 862 L313.5 862 Z M320.5 858 L322 852.5 L325 853 L325 860 Z M333.5 858.5 L334 851 L337 851.5 L337.5 856.5 Z M341 855 L341.5 850 L344.5 851.5 L345 853.5 Z"/>
<ellipse class="p" cx="333.2" cy="853.8" rx="1.9" ry="1.3"/>
<g class="n" style="stroke-width:1.3"><path d="M338.5 821.5 C338 817.5 345.5 817.5 345 821.5 L345.5 827 C346.5 829.5 348.5 830.5 350.5 831 M351 829 C350.5 825 358 825 357.5 829 L358 835 C359 837 361 838.5 363 839 M335.5 828 L340.5 830.5 L340.5 835.5 L346.5 838.5 L347.5 835.5 L353.5 838.5 L353.5 843.5 L359.5 846.5 L361 842"/><ellipse cx="341.8" cy="820.5" rx="2.1" ry="1.3"/><ellipse cx="354.3" cy="828.3" rx="2.1" ry="1.3"/><ellipse cx="366.5" cy="838" rx="2.4" ry="1.5"/></g>
<path class="n" d="M328 823 L328 834 M330.2 822.6 L330.2 836"/>
<path class="n" d="M312.9 815 L312.9 821.8 M320.4 818.4 L320.4 821.8 M280 843 L287.5 838.8 M346.2 822 v7.5 M338.6 822 v6.5 M358.6 830 v7.5 M351 830 v6 M363.5 841 L363.5 846 M369 840 L369 843.5" style="stroke-width:1.2"/>
<path class="k" d="M346.5 829.5 l2.5 1.8 l-.3 3 l-2.5 -1.5z M359 838 l2.5 1.5 l-.3 3 l-2.5 -1.5z M338.5 846 l3 -2 l1.5 2 l-3 2z"/>
<!-- thick rim -->
<path d="M265.2 837.5 L278.8 829.3 L289.7 834.1 L308.1 824.5 L307.4 812.3 L321.7 805.4 L334 811.6 L336.7 811.6 L373.5 832.7 L366.7 846.3 L344.9 859.9 L325.8 868.1 L312.2 867.4 L276.8 847 Z" fill="none" stroke="#222" stroke-width="2.2" stroke-linejoin="round"/>
<path class="n" d="M268.5 838 L279 832 L288.5 836.2 M309.8 813.6 L321.8 808 L332 813.2"/>
<ellipse class="n" cx="276.8" cy="839.5" rx="3.4" ry="2.1" style="stroke-width:1.2"/>
<ellipse class="n" cx="321.1" cy="813.6" rx="3.4" ry="2.1" style="stroke-width:1.2"/>
<!-- lower body arcs -->
<path class="n" d="M369.5 912.2 C376 915 380 916.2 384.5 916.3 C394 916.5 404 914.8 412 911.5 C420 908 427 902 431.5 894.5"/>
<path class="n" d="M342 888 C345 900 362 908.4 383.1 908.6 C404 908.6 420 900 424.5 887"/>
<path class="n" d="M341.6 880.9 C343 894 360 904.2 383.1 904.6 C405 904.6 422 895 424.3 882" style="stroke-width:1.3"/>
<path class="n" d="M330 893.8 L350.5 905 L369.5 912.2 M370 909.5 C375 912 381 913 387 912.8" />
<path d="M370.5 911 L386 913.8" stroke="#222" stroke-width="1.6"/>
<path class="n" d="M338.5 916.5 l1.2 1.4 l1.8 -.4"/>
<!-- ring -->
<ellipse class="p" cx="382.8" cy="876.1" rx="39.8" ry="23.8" style="stroke-width:1.3"/>
<ellipse class="n" cx="383" cy="875.5" rx="37.6" ry="22.2"/>
<ellipse class="p" cx="383.1" cy="875.2" rx="35.4" ry="20.8" style="stroke-width:1.2"/>
<!-- teeth vertical -->
<g stroke="#222" stroke-width="1.5" fill="none"><path d="M350.0 868.8 V880.0 M353.7 864.6 V875.2 M357.4 861.9 V872.2 M361.1 859.9 V870.3 M364.8 858.4 V869.0 M368.5 857.3 V868.0 M372.2 856.4 V867.3 M375.9 855.8 V866.8 M379.6 855.5 V866.6 M383.3 855.4 V866.5 M387.0 855.5 V866.7 M390.7 855.9 V867.0 M394.4 856.5 V867.6 M398.1 857.4 V868.4 M401.8 858.5 V869.6 M405.5 860.1 V871.2 M409.2 862.1 V873.5 M412.9 865.0 V878.0 M416.6 869.5 V880.0 "/></g>
<path d="M377.8 857 L381.2 856.6 L381.2 870 L377.8 870.4 Z M384.6 856.6 L388 857 L388 870.4 L384.6 870 Z M410 864 L412.6 866 L412.6 877 L410 875 Z" fill="#aaa" stroke="none"/>
<!-- teeth bottom ring zigzag -->
<ellipse cx="382.4" cy="880.9" rx="29.6" ry="14" fill="none" stroke="#222" stroke-width="2.4" stroke-dasharray="1.8 2.2"/>
<ellipse class="n" cx="382.4" cy="880.5" rx="27.2" ry="12.6"/>
<path class="n" d="M352.5 879 C355 873 368 870.5 383 870.5 C398 870.5 411 873 413.5 879"/>
<!-- hub -->
<ellipse class="n" cx="382.4" cy="887" rx="13" ry="7.5" style="stroke-width:1.2"/>
<ellipse class="n" cx="382.6" cy="888.6" rx="9.5" ry="5.2"/>
<ellipse class="n" cx="382.8" cy="890" rx="6.5" ry="3.5" style="stroke-width:1.2"/>
<path d="M370 889 C372 893.5 378 895.5 383 895.5 C388 895.5 393.5 893.5 395.3 889" stroke="#222" stroke-width="2" stroke-dasharray="1.6 1.6" fill="none"/>
<!-- port -->
<ellipse class="n" cx="416.3" cy="933.3" rx="7.2" ry="9.8" transform="rotate(22 416.3 933.3)" style="stroke-width:1.3"/>
<path class="n" d="M412 928 C414 925.5 418 924.5 421.5 926 M418 928.5 l2.5 1.5 l-1 2.5" style="stroke-width:1.2"/>
</g>

<g id="cap10">
<path class="k" d="M442 942.5 C442.3 940.2 444 940 446 940.6 L449.5 941.6 L447 946 L442.5 945 Z"/>
<ellipse cx="449" cy="953.2" rx="6.8" ry="12.3" transform="rotate(29 449 953.2)" fill="#fff" stroke="#222" stroke-width="1.8"/>
<ellipse cx="450" cy="953.4" rx="6.8" ry="12.3" transform="rotate(29 450 953.4)" fill="#fff" stroke="#222" stroke-width="1"/>
<ellipse cx="451.4" cy="953.6" rx="6.8" ry="12.4" transform="rotate(29 451.4 953.6)" fill="#fff" stroke="#222" stroke-width="1.5"/>
<path d="M440.8 951 l1.2 .5 M440.2 955 l1.2 .5 M441 959 l1.2 .3" stroke="#222" stroke-width="1.2"/>
</g>

<g id="ring7">
<!-- left tab -->
<path class="p" d="M345.8 970.6 L340.6 971.5 L340.1 976.5 L345 977.8 Z" style="stroke-width:1.2"/>
<!-- side wall -->
<path class="p" d="M343 974 L343.5 983.1 L345.8 997.9 C349 1003.5 356 1007.8 363.4 1010.4 C370 1013 378 1014.7 384.9 1014.9 C391.5 1014.8 398 1013 403.1 1010.4 C410 1007 416 1002 419 996.8 L423.5 983 L424.6 974 Z"/>
<path class="n" d="M384.9 996.8 L384.9 1014.9 M390.6 996 L390.6 1014.3 M398.6 994 L398.6 1012 M403.1 992.5 L403.1 1010.4 M386.5 997 L386.5 1012 M346 992 C352 1001 366 1006 383 1007"/>
<!-- top rim -->
<ellipse class="p" cx="383.8" cy="974" rx="40.9" ry="22.8" style="stroke-width:1.4"/>
<path class="n" d="M344 979.5 C348 990.5 364 997.4 383.8 997.6 C403 997.6 419.5 990.5 423.6 979.5" style="stroke-width:1.3"/>
<!-- interior -->
<ellipse cx="383.6" cy="974.4" rx="35.6" ry="19" fill="#fff" stroke="#1e1e1e" stroke-width="1.6"/>
<ellipse cx="383.6" cy="973.6" rx="38" ry="20.6" fill="none" stroke="#222" stroke-width=".9"/>
<!-- inner back wall arc -->
<path class="n" d="M351 968.5 C356 961.5 369 958.5 383.6 958.5 C398 958.5 411.5 961.5 416.5 968.5"/>
<!-- back teeth (dark blocks) -->
<g fill="#222" stroke="#222" stroke-width=".6" stroke-linejoin="round">
<path d="M373 960 L377.5 959.6 L377.5 965.8 L373 966 Z M378.8 959.5 L385 959.4 L385 965.6 L378.8 965.7 Z M386.2 959.4 L389.5 959.6 L389.5 965.6 L386.2 965.5 Z M393 960.5 L396.8 961.2 L396.8 967 L393 966.4 Z M397.8 961.6 L402 962.8 L402 968 L397.8 967.2 Z M367 961 L371 960.3 L371 966.2 L367 966.8 Z"/>
<!-- left dark sector -->
<path d="M350 975 L352 972 L358.5 973 L359.8 985 L356 986.5 L351.5 981 Z M361.5 977 L368.5 978.5 L369.5 990 L365.5 991.5 L361.5 988 Z M353 985 L360 990.5 L367.5 994 L372 992.5 L376.5 994.5 L375 996 L366 995 L357.5 991 L352 986.5 Z M359 968 l3 -1.5 l1.5 2.5 l-3 1.5z"/>
<!-- right dark sector -->
<path d="M399.5 979 L407.5 977.5 L407.5 989.5 L403 991.5 L399.5 990 Z M408.8 975.5 L413.5 974 L414.5 978 L413.5 984.5 L408.8 986.5 Z M386 992.5 L392 991 L398 992.5 L404 992 L412 987.5 L415.5 982.5 L417 979 L417.5 982 L414 988.5 L406 993.5 L396 995.5 L388 995.5 Z M404 968.5 l3.5 1 l-.5 2.5 l-3.5 -.8z"/>
</g>
<g stroke="#1e1e1e" stroke-width="1" fill="none">
<path d="M352.5 968 v6 M355.5 965.8 v6 M359.5 964 v4 M363.5 962.5 v5 M406 964.5 v4 M410 966.5 v6 M413.5 968.5 v5.5 M416.5 971.5 v5"/>
<path d="M349.5 980 L351 985 M371.5 993.5 v3 M377 995 v2.5 M384 996 v2 M391 995.5 v2.5 M399 994.5 v2.5"/>
</g>
<!-- notches in rim -->
<path class="p" d="M375.5 956.5 L377.5 951.2 L385.5 951.2 L387 956 L384 957.5 L378.5 957.5 Z" style="stroke-width:1.3"/>
<path d="M364 953.2 L369 957.2 M392.5 957 L399 952.6 M346 964 L351.5 967.5 M421 963.5 L415.5 967.5" stroke="#222" stroke-width="1.4" fill="none"/>
<path d="M365.5 958 L369.5 955 L369.5 963 L365.5 964 Z M392.5 955.5 L396 957 L396 964 L392.5 962.5Z" fill="#fff" stroke="#222" stroke-width=".8"/>
<!-- triangle plate -->
<path d="M363 964.8 C368 963.8 398 966 404 967.2 C407 968 407.6 971.5 405.5 973.5 C400 978.5 388 988.5 384.5 991.5 C381.5 993.5 378 993 376.5 990.5 C373 985 363.5 972 361 968.5 C360 966.5 360.8 965.2 363 964.8 Z" fill="#fff" stroke="#222" stroke-width="1.3"/>
<path class="n" d="M365.5 970.5 L378.3 988.2 M400.5 973.2 L385 986.3" style="stroke-width:1"/>
<ellipse class="n" cx="366.8" cy="967.8" rx="2.3" ry="1.4"/><ellipse class="n" cx="400.8" cy="970.4" rx="2.3" ry="1.4"/><ellipse class="n" cx="380.4" cy="986.6" rx="2.5" ry="1.6"/>
<ellipse class="n" cx="380.4" cy="988.5" rx="4.6" ry="2.8"/>
<rect class="n" x="377.2" y="971.8" width="11" height="6" rx="1.6" style="stroke-width:1.2"/>
<path class="n" d="M380.5 971.8 v6 M377.2 974.5 h11"/>
</g>

<g id="motor8">
<!-- motor cylinder -->
<path class="p" d="M346.6 1031.5 L338.7 1024.3 C337 1022.5 335 1021.3 333.1 1021.1 C329 1020.6 325 1021 322 1021.9 C317.5 1023.2 313.5 1025 310.9 1027.5 C308.5 1030 307.3 1033 306.9 1036.2 C306.3 1039.5 306 1043 306.1 1046.5 C306.5 1050 307.5 1053.5 309.3 1056.1 L333.1 1073.6 L342.7 1081.5 L352 1060 Z"/>
<!-- lower gearbox -->
<path class="p" d="M338.3 1059.2 C335.5 1062 333.8 1066 333.7 1070.4 C334 1074 335.8 1077.5 338.3 1079.6 L345.4 1083.7 L362.8 1094.9 L366 1094 L366.5 1090 L374.5 1088.7 L376.1 1086.5 L403.1 1086.3 L403.7 1078 L406.2 1068.8 L390 1075 L374 1073 Z"/>
<path class="n" d="M334.5 1072.5 L345.4 1073.5 L345.4 1083.7 M335.5 1069 L346 1070.5 L348 1073 M338.3 1079.6 C337 1076 337 1073 338.5 1071.5"/>
<!-- worm cylinder -->
<path class="p" d="M344.5 1063 L349.5 1059.5 L375.5 1079.5 C377 1081 377 1084.5 375.5 1086 C374 1087.5 371 1087.5 369.5 1086 L344 1067.5 Z"/>
<path class="n" d="M349.5 1059.5 C347.5 1061.5 346 1064.5 346 1067.5 M353 1062.5 C351 1064.5 349.8 1067.5 349.6 1070.5 M361.5 1069 C359.5 1071 358.3 1074 358.2 1077 M364 1071 C362 1073 360.8 1076 360.7 1079" style="stroke-width:1.3"/>
<ellipse class="p" cx="372.6" cy="1083.4" rx="2.4" ry="3.3" transform="rotate(-35 372.6 1083.4)"/>
<path class="p" d="M361.5 1085 L367.5 1088.5 L367.5 1093 L362.5 1091 Z"/>
<!-- bottom rail -->
<path d="M345.4 1078.2 L364 1093 L362.8 1096.3 L344.6 1082 Z" fill="#2a2a2a" stroke="#222" stroke-width="1"/>
<path class="n" d="M347.5 1075 L364.5 1088.5 M349 1073 L349 1079"/>
<!-- right bracket -->
<path class="n" d="M376.1 1075.5 L376.1 1086.5 M378 1079 C385 1080.5 395 1079.5 401.5 1075.5 M378 1082.5 C386 1084 396 1083 402.5 1079 M391 1080.3 L391 1086.3 M401.5 1075.5 L401.5 1086" style="stroke-width:1.1"/>
<!-- blade -->
<path class="k" d="M363.3 1094.5 L366 1094.2 L383.5 1113.5 L382.6 1115.6 L380.8 1114.5 Z"/>
<!-- top plate -->
<path class="p" d="M346.6 1031.5 L369.7 1018.7 L393.5 1023.5 C397 1024.5 400 1026.5 401.5 1029.1 C402 1032 400.5 1035 398.3 1037 L418.9 1052.9 C420 1055 419.8 1057.5 418.2 1059.3 L406.2 1068.8 C401 1072 395.5 1074.3 390.3 1075.2 C385 1075.8 379.5 1075.2 374.5 1073.6 L333.1 1052.9 C330.5 1051.2 329.3 1049 329.2 1046.5 C329.5 1043.5 331 1041 333.1 1039.4 Z"/>
<path class="n" d="M329.4 1048 C329.8 1050.5 331 1052.8 333.3 1054.4 L374.5 1075.2 C379.5 1076.8 385 1077.4 390.3 1076.8 C396 1075.8 401 1073.6 406.4 1070.4 L418.4 1061 C419.6 1059.8 420 1058.5 420 1057"/>
<!-- pegs -->
<g class="p">
<path d="M369.9 1018.2 C369.9 1016.4 374.4 1016.4 374.4 1018.2 L374.4 1025.2 C374.4 1026.8 369.9 1026.8 369.9 1025.2 Z"/>
<path d="M388 1017.4 C388 1015.6 392 1015.6 392 1017.4 L392 1024.4 C392 1026 388 1026 388 1024.4 Z"/>
<path d="M339.6 1044 C339.6 1042.2 344.2 1042.2 344.2 1044 L344.2 1052 C344.2 1053.6 339.6 1053.6 339.6 1052 Z"/>
<path d="M386.4 1065.2 C386.4 1063.4 390.4 1063.4 390.4 1065.2 L390.4 1073 C390.4 1074.5 386.4 1074.5 386.4 1073 Z"/>
<path d="M400 1062 C400 1060.2 404.6 1060.2 404.6 1062 L404.6 1069.5 C404.6 1071 400 1071 400 1069.5 Z"/>
</g>
<ellipse class="n" cx="342" cy="1041" rx="1.8" ry="1" style="stroke-width:.8"/>
<!-- pinion -->
<ellipse class="p" cx="382.4" cy="1047.3" rx="12.7" ry="6.5" style="stroke-width:1.2"/>
<ellipse class="n" cx="382.6" cy="1046.2" rx="10" ry="5"/>
<path d="M374 1031.5 L375.5 1029.5 L377 1031 L378.8 1028.5 L380.5 1030.3 L382.6 1028 L384.8 1030.3 L386.6 1028.5 L388.2 1031 L389.8 1029.5 L391.4 1031.5 L391.6 1044.5 C389.5 1047.5 376 1047.5 373.8 1044.5 Z" fill="#222" stroke="#222" stroke-width="1" stroke-linejoin="round"/>
<ellipse cx="382.7" cy="1033.2" rx="4.2" ry="2.3" fill="#bbb" stroke="#fff" stroke-width=".8"/>
<!-- small bolts -->
<g>
<ellipse cx="366.9" cy="1052.3" rx="3.6" ry="2.8" fill="#fff" stroke="#222" stroke-width="1.6"/>
<ellipse cx="367.3" cy="1050.3" rx="2.6" ry="1.5" fill="#fff" stroke="#222" stroke-width="1.2"/>
<ellipse cx="397.9" cy="1051.6" rx="3.6" ry="2.8" fill="#fff" stroke="#222" stroke-width="1.6"/>
<ellipse cx="398.3" cy="1049.6" rx="2.6" ry="1.5" fill="#fff" stroke="#222" stroke-width="1.2"/>
</g>
<ellipse class="n" cx="396" cy="1061.5" rx="4" ry="2.3"/>
<path class="n" d="M400 1056 l4 -1.5 M405.5 1061.5 l5 -3" style="stroke-width:.9;stroke-dasharray:1.2 1"/>
<circle cx="410.3" cy="1055.5" r=".8" fill="#222"/>
</g>

<g id="p9">
<!-- pin bottom -->
<path class="p" d="M439.5 1133 L439.5 1139.5 L443 1140.8 L445.5 1139.5 L445.5 1133" style="stroke-width:1.55"/>
<!-- body -->
<path class="p" d="M434.8 1122 L434.8 1130.9 L442.7 1134.8 L454 1127.5 L454.5 1114 Z" style="stroke-width:1.55"/>
<path class="n" d="M443.8 1126.3 L442.7 1134.8 M434.8 1124 L443.8 1126.3"/>
<rect x="436.8" y="1126.6" width="4" height="4.4" fill="#fff" stroke="#222" stroke-width="1" transform="skewY(22) translate(0,-176.5)"/>
<!-- top plate -->
<path class="p" d="M428.5 1117.8 L452.9 1103.6 L460.3 1107.6 L459.7 1112.7 L436.5 1126 L429.6 1120.6 Z" style="stroke-width:1.55"/>
<path class="n" d="M429.6 1120.6 L436.8 1123.8 L459.9 1110.3"/>
<rect x="433.6" y="1116.7" width="2.8" height="2.8" class="n"/><rect x="453.6" y="1105.9" width="2.8" height="2.8" class="n"/>
<!-- cylinder -->
<path class="p" d="M438.7 1109 C438.7 1105.8 446.7 1105.8 446.7 1109 L446.7 1116.5 C446.7 1119.3 438.7 1119.3 438.7 1116.5 Z" style="stroke-width:1.55"/>
<ellipse class="n" cx="442.7" cy="1109" rx="2.6" ry="1.4" style="stroke-width:1.2"/>
<!-- screw -->
<path d="M449.5 1115 L455 1113.5 L468.6 1123.5 L469 1127.5 L465.5 1130 L451 1122.5 Z" fill="#333" stroke="#222" stroke-width="1.2" stroke-linejoin="round"/>
<path d="M458 1118.5 l-1.5 5 M460.5 1120 l-1.5 5 M463 1121.6 l-1.5 5 M465.5 1123.2 l-1.5 5" stroke="#ccc" stroke-width=".7"/>
<path d="M448.4 1114.5 L451 1112.7 L455.5 1114.5 L456.3 1123 L453.5 1126.3 L449.5 1124 Z" fill="#222" stroke="#222" stroke-width="1.2" stroke-linejoin="round"/>
<path d="M451 1117 L453.5 1116 L454.2 1121 L451.8 1122.3 Z" fill="#ddd"/>
</g>

<g id="p19">
<path d="M504.9 1151.2 L487.6 1180" stroke="#222" stroke-width="8.6" stroke-linecap="round" fill="none"/>
<path d="M504.9 1151.2 L487.6 1180" stroke="#fff" stroke-width="5.6" stroke-linecap="round" fill="none"/>
<circle cx="504.6" cy="1152" r="2.1" fill="#fff" stroke="#222" stroke-width="1.5"/>
<path d="M503 1154 l2.6 -2.6" stroke="#222" stroke-width=".8"/>
<circle cx="487.9" cy="1179.8" r="1" fill="#fff" stroke="#222" stroke-width=".9"/>
</g>

<g id="p15">
<!-- outer body -->
<path class="p" d="M277.3 1118.9 L330.4 1085.2 C332.5 1084.3 334.5 1084.2 336.5 1084.8 C339.5 1086 342 1088.3 344.7 1091.3 C348.5 1095.5 352.5 1099.5 356.9 1102.6 C364 1107 372 1111 379.4 1114.8 L408 1130.2 C412.5 1133 417 1136.3 420.3 1140.4 C423.5 1144.5 426 1149.5 427.4 1154.7 C428.5 1159.5 428.8 1164 428.5 1169 L429.5 1173.1 L428.5 1193.5 C427.5 1199 425.5 1204 422.3 1207.8 C418.5 1212.5 413.5 1216 408 1218 C403 1220 397 1221 391.7 1221.1 C386 1221 380.5 1220 375.3 1218 C370 1215.5 365.5 1211.5 361 1207.8 L285.4 1166.9 C282.5 1164 280.8 1160.5 280.3 1156.7 Z"/>
<!-- inner walls -->
<path class="n" d="M285.4 1111.8 L285.4 1126 M294.6 1107.5 L294.6 1131 M291 1109.5 L291 1128.5 M319.1 1093.4 L319.1 1146.5 M326.3 1088 L326.3 1151 M332.4 1085.5 C332.8 1100 332 1115 331 1125 C330 1135 328 1145 326.5 1151"/>
<path class="h" d="M332.4 1122 L418.3 1164.9 L419.3 1181" style="stroke-width:.8"/>
<!-- mid lines -->
<path class="n" d="M283.4 1155.7 L361 1196.6 C361.3 1201 363.5 1205 367.2 1207.8 M361 1196.6 C369 1203 378 1207.5 387.6 1208.8 C395 1209.5 402 1209.3 408 1207.8 C415.5 1205.5 422 1201 426.4 1195.6"/>
<path class="n" d="M417.5 1206 L418 1213 M420.5 1203.5 L421 1210.5" style="stroke-width:.8"/>
<!-- posts -->
<path class="p" d="M286.5 1112 L287 1107 L288.5 1103.8 L290 1107 L290.8 1111 Z"/>
<path class="p" d="M316.5 1093.5 L317 1089 L318.5 1086 L320 1089 L320.8 1093 Z"/>
<path class="n" d="M284.5 1110 L292.5 1109 M314.5 1092 L322.5 1091" style="stroke-width:1.2"/>
<!-- right inner clip -->
<path d="M416.2 1173 L419 1171 L423.4 1173 L423 1178 L419.5 1180 L416.5 1178 Z" fill="#fff" stroke="#222" stroke-width="1.2"/>
<circle cx="420" cy="1175.5" r="1.2" fill="#222"/>
<!-- thick rim -->
<path d="M277.3 1118.9 C278 1120.5 279 1120.8 280.3 1121 C283 1121.5 285.5 1122.5 287.5 1124 C292.5 1128 297 1132.5 301.8 1136.3 C309.5 1142 318 1146.8 326.3 1151.6 L367.2 1177.2 C374 1181 381 1184.3 387.6 1186.4 C393 1188.3 398.5 1189.8 403.9 1190.4 C408.5 1190.8 412.5 1190 416.2 1188.4 C419.5 1186.8 422.5 1184.3 424.4 1181.3 C426.8 1177.5 428 1173.5 428.5 1169" fill="none" stroke="#222" stroke-width="2.2" stroke-linecap="round"/>
<path class="n" d="M278 1121.5 C279 1123 280 1123.5 281.5 1123.8 C283.5 1124 285.5 1125 287.3 1126.5 C292.5 1130.5 297 1135 301.8 1138.8 C309.5 1144.5 318 1149.3 326.3 1154.1 L367.2 1179.7 C374 1183.5 381 1186.8 387.6 1188.9 C393 1190.8 398.5 1192.3 403.9 1192.9 C408.5 1193.3 413 1192.5 416.7 1190.9 C420 1189.3 423.3 1186.8 425.3 1183.8 C427.3 1181 428.5 1178 429.2 1174.5"/>
<path d="M277.3 1118.9 L330.4 1085.2 C332.5 1084.3 334.5 1084.2 336.5 1084.8" fill="none" stroke="#222" stroke-width="1.6"/>
<path class="n" d="M279.5 1119.5 L330.8 1087.3"/>
</g>

<g id="labels">
<path class="l" d="M261 112 L281.75 122.5 M470.6 220.7 L450.8 231.6 M283.6 253 L303 263.6 M271.1 363.2 L288.1 372.7 M270.4 464 L290.9 475.4 M271.6 515.1 L290.9 525.3 M443.6 467.2 L427 476.5 M449.4 497.9 L432 507.5 M128.6 538.2 L149.4 549.7 M254.5 622.7 L269 631.4 M445.6 670.3 L427.2 681.6 M516.5 716.5 L536.4 727.9 M630 616.3 L648.8 605.7 M586.3 675.7 L619 661.4 M741.7 723.1 L722.4 733.7 M274.5 737.2 L295.4 748.1 M408.7 773.3 L390.3 783.8 M515.3 833.3 L534.1 844.1 M249.5 841.9 L270 852.7 M479.3 939.1 L460 948.8 M321.6 960.9 L340.9 972.2 M288.9 1025.4 L307.7 1036.3 M476.2 1100.3 L459.2 1108.8 M530.7 1141.2 L508.5 1153.1 M265.9 1133.2 L286.8 1145 "/>
<path d="M545.5 845.8 C543 842.5 537 842.5 535 846 C533.5 849 535 852.2 538.5 853 C541 853.5 543.5 852.8 544.5 851" fill="none" stroke="#1a1a1a" stroke-width="2.3" stroke-linecap="round"/>
<path d="M545.8 845.5 L543 848 L539.5 848.5 L539 850.5 L543.5 850.5 L546 848.5 Z" fill="#fff" stroke="#1a1a1a" stroke-width="1.5" stroke-linejoin="round"/>
<text class="t" x="249.9" y="112.5" text-anchor="middle">16</text>
<text class="t" x="481.8" y="223.4" text-anchor="middle">14</text>
<text class="t" x="272.9" y="252.4" text-anchor="middle">13</text>
<text class="t" x="259.35" y="363.8" text-anchor="middle">12</text>
<text class="t" x="262.8" y="464" text-anchor="middle">6</text>
<text class="t" x="263.6" y="514" text-anchor="middle">6</text>
<text class="t" x="450" y="465.9" text-anchor="middle">6</text>
<text class="t" x="457" y="496.9" text-anchor="middle">6</text>
<text class="t" x="591.75" y="514" text-anchor="middle">17</text>
<text class="t" x="120" y="538.8" text-anchor="middle">1</text>
<text class="t" x="248" y="624.5" text-anchor="middle">5</text>
<text class="t" x="454.2" y="669.2" text-anchor="middle">4</text>
<text class="t" x="509.5" y="715.7" text-anchor="middle">1</text>
<text class="t" x="621.8" y="623.8" text-anchor="middle">1</text>
<text class="t" x="579.5" y="681.8" text-anchor="middle">1</text>
<text class="t" x="750.9" y="721.4" text-anchor="middle">18</text>
<text class="t" x="263.9" y="736.3" text-anchor="middle">11</text>
<text class="t" x="413.4" y="778.1" text-anchor="middle">3</text>
<text class="t" x="509.3" y="832.7" text-anchor="middle">1</text>
<text class="t" x="244.8" y="846.2" text-anchor="middle">2</text>
<text class="t" x="489" y="943.2" text-anchor="middle">10</text>
<text class="t" x="315.5" y="960.9" text-anchor="middle">7</text>
<text class="t" x="280.4" y="1027.1" text-anchor="middle">8</text>
<text class="t" x="481.3" y="1102" text-anchor="middle">9</text>
<text class="t" x="540.5" y="1145.3" text-anchor="middle">19</text>
<text class="t" x="254" y="1132.7" text-anchor="middle">15</text>
</g>

</svg>
</body></html>
